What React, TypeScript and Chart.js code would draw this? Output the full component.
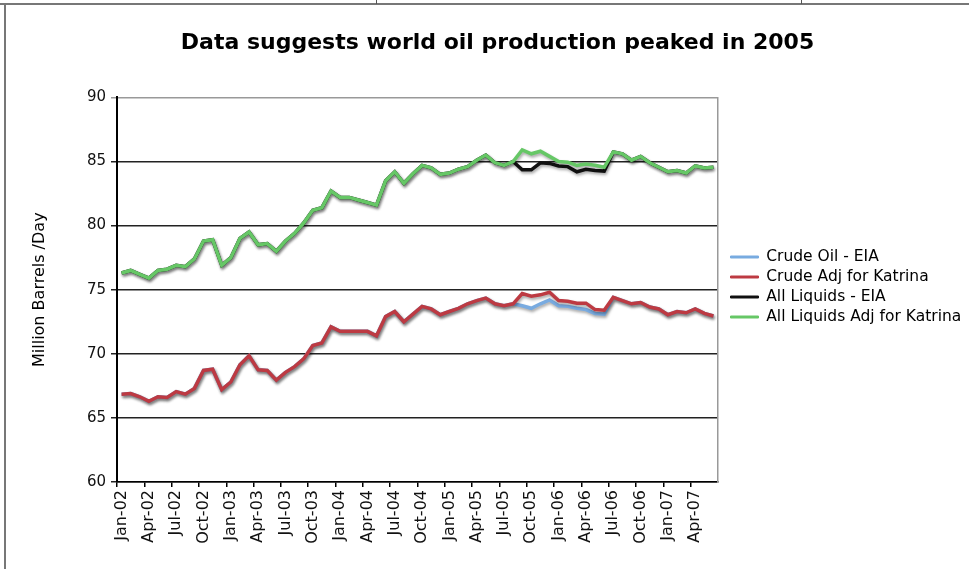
import { useEffect, useRef } from 'react';
import { Chart, registerables } from 'chart.js';

Chart.register(...registerables);

const months = [
  'Jan-02', 'Feb-02', 'Mar-02', 'Apr-02', 'May-02', 'Jun-02', 'Jul-02', 'Aug-02', 'Sep-02', 'Oct-02', 'Nov-02', 'Dec-02',
  'Jan-03', 'Feb-03', 'Mar-03', 'Apr-03', 'May-03', 'Jun-03', 'Jul-03', 'Aug-03', 'Sep-03', 'Oct-03', 'Nov-03', 'Dec-03',
  'Jan-04', 'Feb-04', 'Mar-04', 'Apr-04', 'May-04', 'Jun-04', 'Jul-04', 'Aug-04', 'Sep-04', 'Oct-04', 'Nov-04', 'Dec-04',
  'Jan-05', 'Feb-05', 'Mar-05', 'Apr-05', 'May-05', 'Jun-05', 'Jul-05', 'Aug-05', 'Sep-05', 'Oct-05', 'Nov-05', 'Dec-05',
  'Jan-06', 'Feb-06', 'Mar-06', 'Apr-06', 'May-06', 'Jun-06', 'Jul-06', 'Aug-06', 'Sep-06', 'Oct-06', 'Nov-06', 'Dec-06',
  'Jan-07', 'Feb-07', 'Mar-07', 'Apr-07', 'May-07', 'Jun-07',
];

const crudeOilEIA = [
  66.85, 66.9, 66.65, 66.3, 66.65, 66.6, 67.05, 66.85, 67.3, 68.7, 68.8, 67.2,
  67.8, 69.15, 69.85, 68.75, 68.7, 67.95, 68.55, 69.0, 69.6, 70.65, 70.85, 72.1,
  71.75, 71.75, 71.75, 71.75, 71.4, 72.9, 73.3, 72.5, 73.1, 73.7, 73.5, 73.05,
  73.3, 73.55, 73.9, 74.15, 74.35, 73.9, 73.75, 73.9, 73.75, 73.55, 73.9, 74.2,
  73.75, 73.7, 73.55, 73.45, 73.15, 73.1, 74.4, 74.15, 73.9, 74.0, 73.65, 73.5,
  73.05, 73.3, 73.2, 73.5, 73.15, 72.95,
];

const crudeAdjKatrina = [
  66.85, 66.9, 66.65, 66.3, 66.65, 66.6, 67.05, 66.85, 67.3, 68.7, 68.8, 67.2,
  67.8, 69.15, 69.85, 68.75, 68.7, 67.95, 68.55, 69.0, 69.6, 70.65, 70.85, 72.1,
  71.75, 71.75, 71.75, 71.75, 71.4, 72.9, 73.3, 72.5, 73.1, 73.7, 73.5, 73.05,
  73.3, 73.55, 73.9, 74.15, 74.35, 73.9, 73.75, 73.9, 74.7, 74.5, 74.6, 74.8,
  74.15, 74.1, 73.95, 73.95, 73.45, 73.4, 74.4, 74.15, 73.9, 74.0, 73.65, 73.5,
  73.05, 73.3, 73.2, 73.5, 73.15, 72.95,
];

const allLiquidsEIA = [
  76.3, 76.5, 76.2, 75.9, 76.5, 76.6, 76.9, 76.8, 77.4, 78.8, 78.9, 76.9,
  77.5, 79.0, 79.5, 78.5, 78.6, 78.0, 78.8, 79.4, 80.2, 81.2, 81.4, 82.7,
  82.2, 82.2, 82.0, 81.8, 81.6, 83.5, 84.2, 83.3, 84.05, 84.7, 84.5, 84.0,
  84.1, 84.4, 84.6, 85.1, 85.5, 84.9, 84.7, 85.0, 84.35, 84.35, 84.9, 84.85,
  84.65, 84.6, 84.2, 84.4, 84.3, 84.25, 85.75, 85.6, 85.1, 85.4, 84.9, 84.55,
  84.2, 84.3, 84.1, 84.65, 84.5, 84.55,
];

const allLiquidsAdjKatrina = [
  76.3, 76.5, 76.2, 75.9, 76.5, 76.6, 76.9, 76.8, 77.4, 78.8, 78.9, 76.9,
  77.5, 79.0, 79.5, 78.5, 78.6, 78.0, 78.8, 79.4, 80.2, 81.2, 81.4, 82.7,
  82.2, 82.2, 82.0, 81.8, 81.6, 83.5, 84.2, 83.3, 84.05, 84.7, 84.5, 84.0,
  84.1, 84.4, 84.6, 85.1, 85.5, 84.9, 84.7, 85.0, 85.9, 85.6, 85.8, 85.4,
  85.0, 84.95, 84.7, 84.8, 84.7, 84.55, 85.75, 85.6, 85.1, 85.4, 84.9, 84.55,
  84.2, 84.3, 84.1, 84.65, 84.5, 84.55,
];

const seriesNames = ['Crude Oil - EIA', 'Crude Adj for Katrina', 'All Liquids - EIA', 'All Liquids Adj for Katrina'];
const seriesColors = ['#79abe0', '#bd3a42', '#111111', '#66c766'];

const shadowPlugin = {
  id: 'lineShadow',
  beforeDatasetsDraw(chart: any) {
    const ctx = chart.ctx;
    ctx.save();
    ctx.shadowColor = 'rgba(0,0,0,0.35)';
    ctx.shadowBlur = 3;
    ctx.shadowOffsetX = 1;
    ctx.shadowOffsetY = 2;
  },
  afterDatasetsDraw(chart: any) {
    chart.ctx.restore();
  },
};

export default function App() {
  const ref = useRef<HTMLCanvasElement>(null);

  useEffect(() => {
    const values = [crudeOilEIA, crudeAdjKatrina, allLiquidsEIA, allLiquidsAdjKatrina];
    const orders = [2, 1, 2, 1];
    const chart = new Chart(ref.current as HTMLCanvasElement, {
      type: 'line',
      data: {
        labels: months,
        datasets: values.map((v, i) => ({
          label: seriesNames[i],
          data: v,
          borderColor: seriesColors[i],
          backgroundColor: seriesColors[i],
          borderWidth: 3.5,
          pointRadius: 0,
          tension: 0,
          fill: false,
          order: orders[i],
        })),
      },
      options: {
        responsive: false,
        animation: false,
        layout: { padding: { left: 20, right: 0, top: 0, bottom: 0 } },
        plugins: {
          title: {
            display: true,
            text: 'Data suggests world oil production peaked in 2005',
            color: '#000',
            font: { family: 'DejaVu Sans', size: 22, weight: 'bold' },
            padding: { top: 25, bottom: 41 },
          },
          legend: {
            position: 'right',
            maxWidth: 243,
            labels: {
              boxWidth: 28,
              boxHeight: 2,
              padding: 4.5,
              color: '#000',
              font: { family: 'DejaVu Sans', size: 15.5 },
              sort: (a: any, b: any) => a.datasetIndex - b.datasetIndex,
              generateLabels: (c: any) =>
                (Chart.defaults.plugins.legend.labels.generateLabels as any)(c).map((l: any) => ({
                  ...l,
                  lineWidth: 1,
                  strokeStyle: l.fillStyle,
                })),
            },
          },
          tooltip: { enabled: false },
        },
        scales: {
          x: {
            offset: true,
            grid: {
              offset: true,
              drawOnChartArea: false,
              tickLength: 5,
              lineWidth: 1.5,
              color: (ctx: any) => (ctx.index % 3 === 0 ? '#000' : 'rgba(0,0,0,0)'),
            },
            border: { color: '#000', width: 1.5 },
            ticks: {
              autoSkip: false,
              minRotation: 90,
              maxRotation: 90,
              padding: 3,
              color: '#111',
              font: { family: 'DejaVu Sans', size: 16 },
              callback: (_v: any, idx: number) => (idx % 3 === 0 ? months[idx] : ''),
            },
            afterFit: (s: any) => {
              s.height = 87;
            },
          },
          y: {
            min: 60,
            max: 90,
            ticks: {
              stepSize: 5,
              padding: 5,
              color: '#111',
              font: { family: 'DejaVu Sans', size: 15 },
            },
            grid: {
              tickLength: 6,
              lineWidth: 1.5,
              color: (ctx: any) => (ctx.tick && ctx.tick.value === 90 ? '#999' : '#222'),
            },
            border: { color: '#000', width: 2 },
            title: {
              display: true,
              text: 'Million Barrels /Day',
              color: '#000',
              font: { family: 'DejaVu Sans', size: 16 },
            },
            afterFit: (s: any) => {
              s.width = 91;
            },
          },
          y2: {
            position: 'right',
            min: 60,
            max: 90,
            ticks: { display: false },
            grid: { drawOnChartArea: false, drawTicks: false },
            border: { color: '#999', width: 1.5 },
            afterFit: (s: any) => {
              s.width = 8;
            },
          },
        },
      },
      plugins: [shadowPlugin],
    });
    return () => chart.destroy();
  }, []);

  return (
    <div style={{ position: 'fixed', left: 0, top: 0, width: 969, height: 569, background: '#fff', overflow: 'hidden' }}>
      <div style={{ position: 'absolute', left: 0, top: 3, width: 969, height: 2, background: '#777' }} />
      <div style={{ position: 'absolute', left: 376, top: 0, width: 1, height: 4, background: '#555' }} />
      <div style={{ position: 'absolute', left: 801, top: 0, width: 1, height: 4, background: '#555' }} />
      <div style={{ position: 'absolute', left: 4, top: 3, width: 2, height: 566, background: '#777' }} />
      <div style={{ position: 'absolute', left: 6, top: 5, width: 963, height: 564 }}>
        <canvas ref={ref} width={963} height={564} style={{ display: 'block', width: 963, height: 564 }} />
      </div>
    </div>
  );
}
